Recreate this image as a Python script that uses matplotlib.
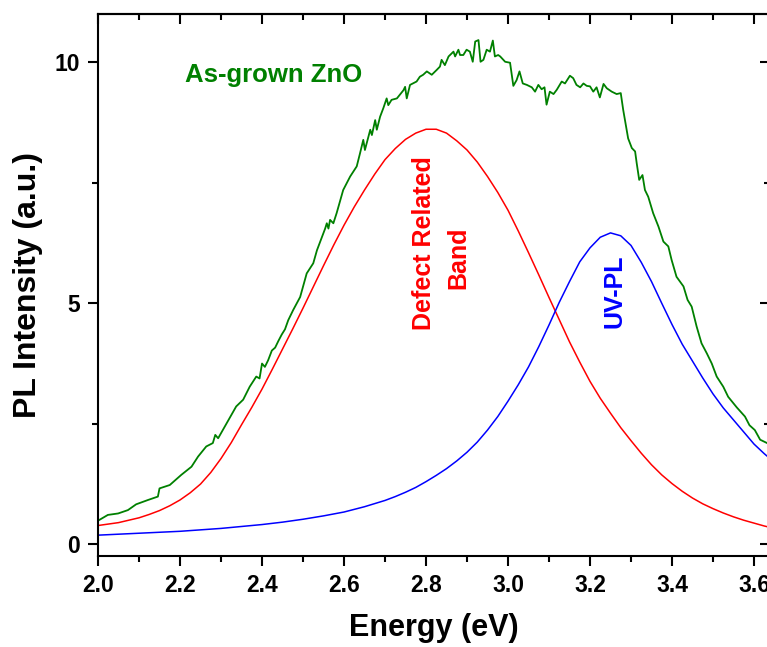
import matplotlib
matplotlib.use("Agg")
import matplotlib.pyplot as plt
from matplotlib.ticker import MultipleLocator

plt.rcParams['font.family'] = ['Liberation Sans', 'DejaVu Sans']
plt.rcParams['font.weight'] = 'bold'

# measured spectrum (as-grown ZnO)
energy_meas = [
    2.000, 2.024, 2.049, 2.073, 2.093, 2.122, 2.146, 2.150, 2.175, 2.203,
    2.228, 2.244, 2.264, 2.280, 2.286, 2.293, 2.309, 2.325, 2.337, 2.354,
    2.370, 2.386, 2.394, 2.400, 2.407, 2.415, 2.424, 2.432, 2.440, 2.448,
    2.456, 2.464, 2.476, 2.493, 2.509, 2.525, 2.534, 2.542, 2.554, 2.558,
    2.562, 2.566, 2.574, 2.582, 2.598, 2.615, 2.631, 2.639, 2.647, 2.651,
    2.664, 2.668, 2.676, 2.680, 2.688, 2.696, 2.704, 2.708, 2.716, 2.729,
    2.745, 2.749, 2.753, 2.761, 2.777, 2.785, 2.793, 2.802, 2.814, 2.826,
    2.834, 2.838, 2.846, 2.855, 2.867, 2.871, 2.879, 2.883, 2.891, 2.899,
    2.907, 2.914, 2.920, 2.928, 2.933, 2.940, 2.948, 2.956, 2.963, 2.968,
    2.976, 2.981, 2.993, 3.005, 3.013, 3.021, 3.028, 3.036, 3.046, 3.058,
    3.066, 3.074, 3.082, 3.089, 3.094, 3.102, 3.111, 3.119, 3.131, 3.139,
    3.151, 3.159, 3.167, 3.176, 3.184, 3.192, 3.200, 3.208, 3.216, 3.224,
    3.233, 3.241, 3.253, 3.265, 3.275, 3.281, 3.293, 3.302, 3.310, 3.314,
    3.320, 3.328, 3.334, 3.342, 3.354, 3.367, 3.379, 3.391, 3.399, 3.411,
    3.428, 3.438, 3.448, 3.460, 3.472, 3.485, 3.497, 3.509, 3.525, 3.537,
    3.558, 3.578, 3.589, 3.602, 3.615, 3.632, 3.650,
]
pl_meas = [
    0.49, 0.61, 0.64, 0.71, 0.83, 0.92, 0.99, 1.16, 1.23, 1.44,
    1.61, 1.82, 2.03, 2.10, 2.27, 2.20, 2.44, 2.68, 2.86, 3.00,
    3.27, 3.48, 3.44, 3.75, 3.68, 3.82, 4.02, 4.08, 4.22, 4.35,
    4.46, 4.65, 4.86, 5.13, 5.62, 5.83, 6.10, 6.28, 6.55, 6.66,
    6.55, 6.73, 6.66, 6.87, 7.35, 7.63, 7.84, 8.11, 8.39, 8.18,
    8.60, 8.49, 8.80, 8.60, 8.87, 9.05, 9.25, 9.11, 9.22, 9.25,
    9.42, 9.49, 9.25, 9.53, 9.60, 9.70, 9.74, 9.81, 9.74, 9.84,
    9.91, 10.05, 9.94, 10.12, 10.22, 10.12, 10.26, 10.15, 10.15, 10.26,
    10.22, 10.01, 10.43, 10.46, 10.01, 10.05, 10.26, 10.22, 10.45, 10.12,
    10.15, 10.12, 10.01, 9.99, 9.51, 9.63, 9.81, 9.56, 9.53, 9.48,
    9.39, 9.53, 9.44, 9.48, 9.12, 9.39, 9.34, 9.43, 9.60, 9.56,
    9.72, 9.67, 9.53, 9.48, 9.56, 9.51, 9.50, 9.39, 9.48, 9.27,
    9.55, 9.46, 9.39, 9.34, 9.36, 9.01, 8.42, 8.22, 8.15, 7.90,
    7.56, 7.66, 7.35, 7.21, 6.87, 6.59, 6.28, 6.18, 5.90, 5.55,
    5.35, 5.07, 4.93, 4.52, 4.17, 3.96, 3.75, 3.48, 3.27, 3.06,
    2.84, 2.65, 2.47, 2.37, 2.17, 2.10, 2.00,
]

# fitted components
energy_defect = [
    2.000, 2.025, 2.050, 2.075, 2.100, 2.125, 2.150, 2.175, 2.200, 2.225,
    2.250, 2.275, 2.300, 2.325, 2.350, 2.375, 2.400, 2.425, 2.450, 2.475,
    2.500, 2.525, 2.550, 2.575, 2.600, 2.625, 2.650, 2.675, 2.700, 2.725,
    2.750, 2.775, 2.800, 2.825, 2.850, 2.875, 2.900, 2.925, 2.950, 2.975,
    3.000, 3.025, 3.050, 3.075, 3.100, 3.125, 3.150, 3.175, 3.200, 3.225,
    3.250, 3.275, 3.300, 3.325, 3.350, 3.375, 3.400, 3.425, 3.450, 3.475,
    3.500, 3.525, 3.550, 3.575, 3.600, 3.625, 3.650,
]
defect_band = [
    0.39, 0.42, 0.45, 0.50, 0.55, 0.62, 0.70, 0.80, 0.92, 1.07,
    1.25, 1.49, 1.78, 2.11, 2.48, 2.84, 3.22, 3.63, 4.05, 4.47,
    4.90, 5.34, 5.78, 6.21, 6.62, 7.00, 7.35, 7.68, 7.98, 8.21,
    8.40, 8.53, 8.61, 8.61, 8.53, 8.37, 8.18, 7.93, 7.63, 7.30,
    6.93, 6.50, 6.05, 5.59, 5.12, 4.66, 4.20, 3.78, 3.38, 3.03,
    2.72, 2.42, 2.15, 1.89, 1.65, 1.44, 1.26, 1.10, 0.96, 0.84,
    0.74, 0.65, 0.57, 0.50, 0.44, 0.38, 0.33,
]
energy_uv = [
    2.000, 2.050, 2.100, 2.150, 2.200, 2.250, 2.300, 2.350, 2.400, 2.450,
    2.500, 2.550, 2.600, 2.650, 2.700, 2.725, 2.750, 2.775, 2.800, 2.825,
    2.850, 2.875, 2.900, 2.925, 2.950, 2.975, 3.000, 3.025, 3.050, 3.075,
    3.100, 3.125, 3.150, 3.175, 3.200, 3.225, 3.250, 3.275, 3.300, 3.325,
    3.350, 3.375, 3.400, 3.425, 3.450, 3.475, 3.500, 3.525, 3.550, 3.575,
    3.600, 3.625, 3.650,
]
uv_pl = [
    0.19, 0.21, 0.23, 0.25, 0.27, 0.30, 0.33, 0.37, 0.41, 0.46,
    0.52, 0.59, 0.67, 0.78, 0.91, 0.99, 1.08, 1.18, 1.30, 1.43,
    1.57, 1.73, 1.91, 2.12, 2.37, 2.65, 2.97, 3.31, 3.68, 4.10,
    4.55, 5.02, 5.45, 5.86, 6.15, 6.37, 6.46, 6.40, 6.20, 5.85,
    5.45, 5.00, 4.56, 4.15, 3.80, 3.45, 3.12, 2.83, 2.58, 2.33,
    2.08, 1.88, 1.70,
]

fig = plt.figure(figsize=(7.67, 6.47), dpi=100)
ax = fig.add_axes([0.1278, 0.1406, 0.8761, 0.8377])

ax.plot(energy_meas, pl_meas, color='#008000', lw=1.3)
ax.plot(energy_defect, defect_band, color='#ff0000', lw=1.1)
ax.plot(energy_uv, uv_pl, color='#0000ff', lw=1.1)

ax.set_xlim(2.0, 3.639)
ax.set_ylim(-0.243, 11.0)

ax.xaxis.set_major_locator(MultipleLocator(0.2))
ax.xaxis.set_minor_locator(MultipleLocator(0.1))
ax.yaxis.set_major_locator(MultipleLocator(5))
ax.yaxis.set_minor_locator(MultipleLocator(2.5))
ax.xaxis.set_major_formatter(lambda v, p: f"{v:.1f}")
ax.yaxis.set_major_formatter(lambda v, p: f"{v:.0f}")

ax.tick_params(which='both', direction='out', width=1.5, top=False, right=False)
ax.tick_params(which='major', length=7, labelsize=16.5, pad=6)
ax.tick_params(which='minor', length=4)
for s in ax.spines.values():
    s.set_linewidth(1.5)

# inward ticks on the top and right edges
secx = ax.secondary_xaxis('top')
secx.xaxis.set_major_locator(MultipleLocator(0.2))
secx.xaxis.set_minor_locator(MultipleLocator(0.1))
secx.tick_params(which='both', direction='in', width=1.5, labeltop=False)
secx.tick_params(which='major', length=7)
secx.tick_params(which='minor', length=4)
secx.spines['top'].set_linewidth(1.5)

secy = ax.secondary_yaxis('right')
secy.yaxis.set_major_locator(MultipleLocator(5))
secy.yaxis.set_minor_locator(MultipleLocator(2.5))
secy.tick_params(which='both', direction='in', width=1.5, labelright=False)
secy.tick_params(which='major', length=7)
secy.tick_params(which='minor', length=4)
secy.spines['right'].set_linewidth(1.5)

ax.set_xlabel("Energy (eV)", fontsize=22, fontweight='bold')
ax.set_ylabel("PL Intensity (a.u.)", fontsize=23, fontweight='bold')
ax.xaxis.set_label_coords(0.5, -0.105)
ax.yaxis.set_label_coords(-0.082, 0.5)

ax.text(2.212, 9.60, "As-grown ZnO", color='#008000', fontsize=18.5,
        fontweight='bold', ha='left', va='baseline')
ax.text(2.812, 6.24, "Defect Related", color='#ff0000', fontsize=18,
        fontweight='bold', rotation=90, rotation_mode='anchor',
        ha='center', va='baseline')
ax.text(2.895, 5.95, "Band", color='#ff0000', fontsize=18,
        fontweight='bold', rotation=90, rotation_mode='anchor',
        ha='center', va='baseline')
ax.text(3.276, 5.245, "UV-PL", color='#0000ff', fontsize=18,
        fontweight='bold', rotation=90, rotation_mode='anchor',
        ha='center', va='baseline')

fig.savefig("out.png", dpi=100)
